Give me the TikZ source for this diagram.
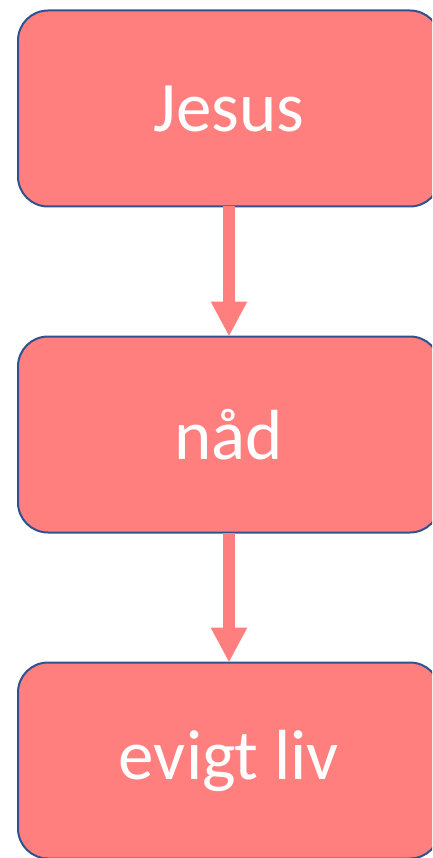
\documentclass[tikz,border=0pt]{standalone}
\usepackage{fontspec}
\setmainfont{Carlito}
\usetikzlibrary{positioning, arrows.meta}

\definecolor{boxfill}{HTML}{FF7F7F}
\definecolor{boxline}{HTML}{2F528F}

\begin{document}
\begin{tikzpicture}[x=1pt, y=1pt, node distance=130pt]

\useasboundingbox (0,0) rectangle (432,-858);
\clip (0,0) rectangle (432,-858);

% Define nodes
\tikzset{stepbox/.style={rectangle, rounded corners=30pt, draw=boxline, line width=2pt, fill=boxfill,
  minimum width=422pt, minimum height=196pt, inner sep=0pt, outer sep=0pt,
  text=white, font=\fontsize{71}{84}\selectfont}}
\node[stepbox] (jesus) at (229,-108.5) {Jesus};
\node[stepbox, below=of jesus] (naad) {nåd};
\node[stepbox, below=of naad] (liv) {evigt liv};

% Draw edges with arrows
\draw[boxfill, line width=12pt, -{Triangle[width=34pt, length=35pt]}] (jesus) -- (naad);
\draw[boxfill, line width=12pt, -{Triangle[width=34pt, length=35pt]}] (naad) -- (liv);

\end{tikzpicture}
\end{document}
